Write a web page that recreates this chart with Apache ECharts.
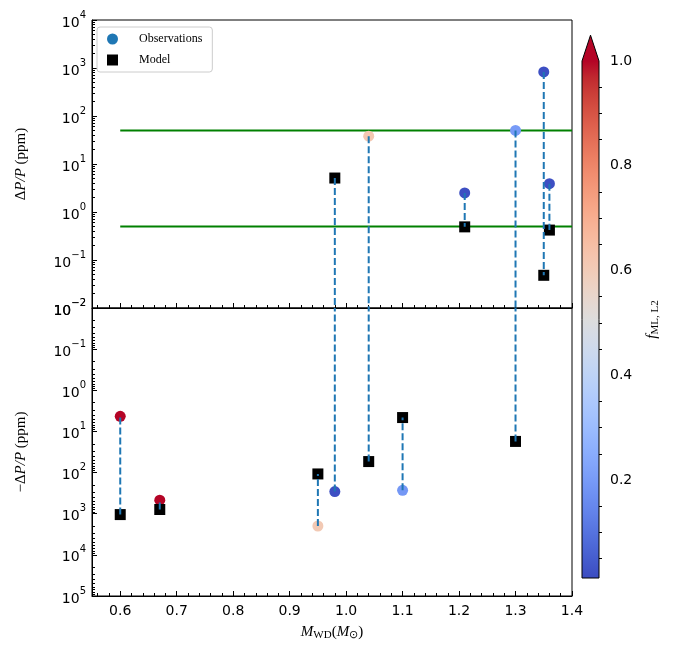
<!DOCTYPE html>
<html>
<head>
<meta charset="utf-8">
<script src="https://cdn.jsdelivr.net/npm/echarts@6/dist/echarts.min.js"></script>
<style>
  html, body { margin: 0; padding: 0; background: #fff; }
  #chart { width: 674px; height: 654px; }
</style>
</head>
<body>
<div id="chart"></div>
<script>
// white dwarf mass (M_sun) of each system
const masses = [0.60, 0.67, 0.95, 0.98, 1.04, 1.10, 1.21, 1.30, 1.35, 1.36];
// dP/P in ppm, sign kept: negative values go to the lower panel
const obsVals = [-4.3, -470, -1990, -290, 38, -270, 2.5, 50, 830, 3.9];
const modelVals = [-1050, -790, -108, 5.1, -54, -4.6, 0.49, -17.5, 0.048, 0.42];
// f_ML,L2 colour value of each observation
const fML = [1.0, 1.0, 0.61, 0.02, 0.62, 0.19, 0.02, 0.2, 0.02, 0.02];
// green reference levels (top panel)
const thresholds = [50, 0.5];
const thresholdX = [0.6, 1.4];

// ticks
const xTicks = [0.6, 0.7, 0.8, 0.9, 1.0, 1.1, 1.2, 1.3, 1.4];
const topTicks = [1e-2, 1e-1, 1, 10, 100, 1e3, 1e4];
const bottomTicks = [1e-2, 1e-1, 1, 10, 100, 1e3, 1e4, 1e5];
const cbTicks = [0.2, 0.4, 0.6, 0.8, 1.0];
const cbMin = 0.013, cbMax = 1.0;

// matplotlib coolwarm
const coolwarm = [
  '#3b4cc0', '#445acc', '#4d68d7', '#5775e1', '#6282ea', '#6c8ef1', '#779af7', '#82a5fb',
  '#8db0fe', '#98b9ff', '#a3c2ff', '#aec9fd', '#b8d0f9', '#c2d5f4', '#ccd9ee', '#d5dbe6',
  '#dddddd', '#e5d8d1', '#ecd3c5', '#f1ccb8', '#f5c4ad', '#f7bba0', '#f7b194', '#f7a687',
  '#f49a7b', '#f18d6f', '#ec7f63', '#e57058', '#de604d', '#d55042', '#cb3e38', '#c0282f', '#b40426'
];

function logMinor(major) {
  const out = [];
  for (let i = 0; i < major.length - 1; i++) {
    for (let k = 2; k <= 9; k++) out.push(k * major[i]);
  }
  return out;
}
const xMinor = [];
for (let v = 56; v <= 140; v += 2) if (v % 10) xMinor.push(v / 100);
const cbMinor = [];
for (let v = 5; v < 100; v += 5) if (v % 20) cbMinor.push(v / 100);

const FONT = 'DejaVu Sans';
const SERIF = 'Liberation Serif';

const supRich = {
  b: { fontFamily: FONT, fontSize: 14, color: '#000', lineHeight: 20, verticalAlign: 'bottom' },
  s: { fontFamily: FONT, fontSize: 10, color: '#000', lineHeight: 10, verticalAlign: 'top' }
};
function powLabel(v) {
  const e = Math.round(Math.log10(v));
  return '{b|10}{s|' + (e < 0 ? '\u2212' + (-e) : e) + '}';
}
const nameRich = {
  n: { fontFamily: SERIF, fontSize: 15, color: '#000', lineHeight: 18 },
  i: { fontFamily: SERIF, fontSize: 15, fontStyle: 'italic', color: '#000', lineHeight: 18 },
  sub: { fontFamily: SERIF, fontSize: 11, color: '#000', lineHeight: 11, verticalAlign: 'bottom' }
};

function xAxisPair(grid, withLabels) {
  const base = { type: 'value', gridIndex: grid, min: 0.55, max: 1.4, position: 'bottom', splitLine: { show: false } };
  const main = Object.assign({}, base, {
    axisLine: { show: true, lineStyle: { color: '#000', width: 1 } },
    axisTick: { inside: true, length: 5, customValues: xTicks, lineStyle: { color: '#000' } },
    axisLabel: withLabels
      ? { customValues: xTicks, formatter: v => v.toFixed(1), fontFamily: FONT, fontSize: 14, color: '#000', margin: 8 }
      : { show: false }
  });
  if (withLabels) {
    main.name = '{i|M}{sub|WD}{n|(}{i|M}{sub|\u2299}{n|)}';
    main.nameLocation = 'middle';
    main.nameGap = 27;
    main.nameTextStyle = { rich: nameRich };
  }
  const minor = Object.assign({}, base, {
    axisLine: { show: false },
    axisTick: { inside: true, length: 3, customValues: xMinor, lineStyle: { color: '#000' } },
    axisLabel: { show: false }
  });
  return [main, minor];
}

function yAxisPair(grid, ticks, inverse, name) {
  const base = { type: 'log', logBase: 10, gridIndex: grid, min: ticks[0], max: ticks[ticks.length - 1],
    inverse: inverse, position: 'left', splitLine: { show: false } };
  const main = Object.assign({}, base, {
    axisLine: { show: true, lineStyle: { color: '#000', width: 1 } },
    axisTick: { inside: true, length: 5, customValues: ticks, lineStyle: { color: '#000' } },
    axisLabel: { customValues: ticks, formatter: powLabel, rich: supRich, margin: 6 },
    name: name, nameLocation: 'middle', nameGap: 62, nameTextStyle: { rich: nameRich }
  });
  const minor = Object.assign({}, base, {
    axisLine: { show: false },
    axisTick: { inside: true, length: 3, customValues: logMinor(ticks), lineStyle: { color: '#000' } },
    axisLabel: { show: false }
  });
  return [main, minor];
}

const idx = masses.map((m, i) => i);
function points(vals, sign) {
  return idx.filter(i => Math.sign(vals[i]) === sign).map(i => [masses[i], Math.abs(vals[i]), fML[i]]);
}

// dashed link obs <-> model, cut at the panel edge when they sit in different panels
function linkRenderer(sign, floor) {
  return function (params, api) {
    const i = params.dataIndex;
    const a = obsVals[i] * sign, b = modelVals[i] * sign;
    if (a <= 0 && b <= 0) return;
    const hi = Math.max(a, b);
    const lo = (a > 0 && b > 0) ? Math.min(a, b) : floor;
    const p1 = api.coord([api.value(0), hi]);
    const p2 = api.coord([api.value(0), lo]);
    return {
      type: 'line',
      shape: { x1: p1[0], y1: p1[1], x2: p2[0], y2: p2[1] },
      style: { stroke: '#1f77b4', lineWidth: 2, lineDash: [7, 3] }
    };
  };
}

function panelSeries(grid, sign, floor) {
  const xi = grid * 2, yi = grid * 2;
  return [
    { name: 'Observations', type: 'scatter', xAxisIndex: xi, yAxisIndex: yi, data: points(obsVals, sign),
      symbol: 'circle', symbolSize: 11, itemStyle: { opacity: 1 }, z: 3 },
    { name: 'Model', type: 'scatter', xAxisIndex: xi, yAxisIndex: yi, data: points(modelVals, sign),
      symbol: 'rect', symbolSize: 11, itemStyle: { color: '#000', opacity: 1 }, z: 4 },
    { name: 'link', type: 'custom', xAxisIndex: xi, yAxisIndex: yi, silent: true, z: 5,
      data: masses.map(m => [m, 1]), renderItem: linkRenderer(sign, floor) }
  ];
}

const chart = echarts.init(document.getElementById('chart'), null, { renderer: 'canvas' });

const xAxes = [].concat(xAxisPair(0, false), xAxisPair(1, true),
  [{ type: 'value', gridIndex: 2, min: 0, max: 1, show: false }]);
const yAxes = [].concat(
  yAxisPair(0, topTicks, false, '{n|\u0394}{i|P/P}{n| (ppm)}'),
  yAxisPair(1, bottomTicks, true, '{n|\u2212\u0394}{i|P/P}{n| (ppm)}'),
  [
    { type: 'value', gridIndex: 2, min: cbMin, max: cbMax, position: 'right', splitLine: { show: false },
      axisLine: { show: false },
      axisTick: { inside: false, length: 5, customValues: cbTicks, lineStyle: { color: '#000' } },
      axisLabel: { customValues: cbTicks, formatter: v => v.toFixed(1), fontFamily: FONT, fontSize: 14, color: '#000', margin: 11 },
      name: '{i|f}{sub|ML, L2}', nameLocation: 'middle', nameGap: 44, nameTextStyle: { rich: nameRich } },
    { type: 'value', gridIndex: 2, min: cbMin, max: cbMax, position: 'right', splitLine: { show: false },
      axisLine: { show: false },
      axisTick: { inside: false, length: 3, customValues: cbMinor, lineStyle: { color: '#000' } },
      axisLabel: { show: false } }
  ]);

const series = [].concat(
  thresholds.map(t => ({
    name: 'level', type: 'line', xAxisIndex: 0, yAxisIndex: 0, silent: true, symbol: 'none', z: 2,
    data: thresholdX.map(x => [x, t]), lineStyle: { color: '#008000', width: 2 }
  })),
  panelSeries(0, 1, topTicks[0]),
  panelSeries(1, -1, bottomTicks[0]),
  [{
    name: 'colorbar', type: 'custom', xAxisIndex: 4, yAxisIndex: 4, silent: true,
    data: [[0, cbMin, cbMax]],
    renderItem: function (params, api) {
      const bl = api.coord([0, api.value(1)]);
      const tr = api.coord([1, api.value(2)]);
      const w = tr[0] - bl[0], h = bl[1] - tr[1];
      const tip = h * 0.05, mid = (bl[0] + tr[0]) / 2;
      const stops = coolwarm.map((c, k) => ({ offset: k / (coolwarm.length - 1), color: c }));
      return {
        type: 'group',
        children: [
          { type: 'rect', shape: { x: bl[0], y: tr[1], width: w, height: h },
            style: { fill: new echarts.graphic.LinearGradient(0, 1, 0, 0, stops) } },
          { type: 'polygon', shape: { points: [[bl[0], tr[1]], [tr[0], tr[1]], [mid, tr[1] - tip]] },
            style: { fill: coolwarm[coolwarm.length - 1] } },
          { type: 'polygon', shape: { points: [[bl[0], bl[1]], [tr[0], bl[1]], [tr[0], tr[1]], [mid, tr[1] - tip], [bl[0], tr[1]]] },
            style: { fill: 'none', stroke: '#000', lineWidth: 1 } }
        ]
      };
    }
  }]
);

chart.setOption({
  animation: false,
  backgroundColor: '#fff',
  grid: [
    { left: 92, top: 20, width: 480, height: 288, show: true, borderColor: '#000', borderWidth: 1 },
    { left: 92, top: 308, width: 480, height: 288, show: true, borderColor: '#000', borderWidth: 1 },
    { left: 582, top: 61, width: 17, height: 517 }
  ],
  legend: {
    left: 97, top: 27, orient: 'vertical', selectedMode: false,
    itemWidth: 11, itemHeight: 11, itemGap: 9,
    padding: [6, 10, 6, 10],
    borderColor: '#cccccc', borderWidth: 1, borderRadius: 3, backgroundColor: '#ffffff',
    textStyle: { fontFamily: SERIF, fontSize: 12, color: '#000', padding: [0, 0, 0, 16] },
    data: [
      { name: 'Observations', icon: 'circle', itemStyle: { color: '#1f77b4', opacity: 1 } },
      { name: 'Model', icon: 'rect', itemStyle: { color: '#000', opacity: 1 } }
    ]
  },
  visualMap: {
    type: 'continuous', show: false, min: cbMin, max: cbMax, dimension: 2,
    seriesIndex: [2, 5], inRange: { color: coolwarm }
  },
  xAxis: xAxes,
  yAxis: yAxes,
  series: series
});
</script>
</body>
</html>
